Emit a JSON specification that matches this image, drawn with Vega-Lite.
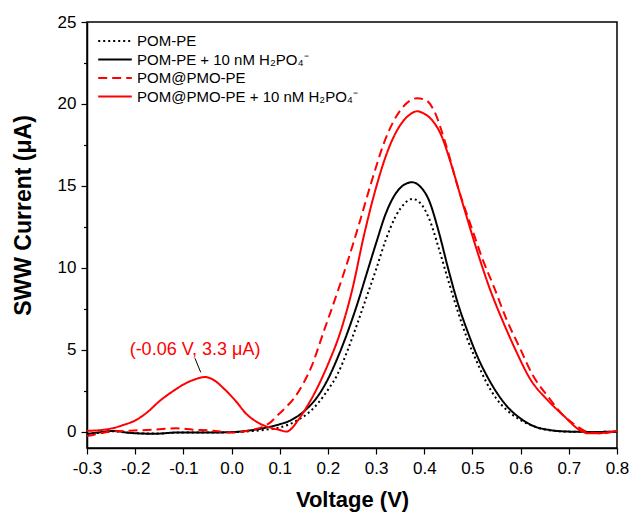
{
  "$schema": "https://vega.github.io/schema/vega-lite/v6.json",
  "width": 530,
  "height": 426,
  "autosize": "none",
  "padding": {"left": 87, "top": 22, "right": 13, "bottom": 68},
  "config": {
    "font": "Liberation Sans",
    "view": {"stroke": "black", "strokeWidth": 1.5},
    "axis": {"grid": false, "domainColor": "black", "domainWidth": 1.5, "tickColor": "black", "tickWidth": 1.2, "labelColor": "black", "labelFontSize": 17, "labelFont": "Liberation Sans", "titleFont": "Liberation Sans", "titleFontWeight": "bold", "titleColor": "black", "labelFlush": false, "labelOverlap": false}
  },
  "datasets": {
    "curves": [
      {"series": "POM-PE", "v": -0.3, "i": -0.14}, {"series": "POM-PE", "v": -0.27, "i": -0.05}, {"series": "POM-PE", "v": -0.245, "i": 0.02}, {"series": "POM-PE", "v": -0.21, "i": -0.08}, {"series": "POM-PE", "v": -0.16, "i": -0.12}, {"series": "POM-PE", "v": -0.11, "i": -0.06}, {"series": "POM-PE", "v": -0.05, "i": -0.05}, {"series": "POM-PE", "v": 0.0, "i": -0.04}, {"series": "POM-PE", "v": 0.04, "i": 0.03}, {"series": "POM-PE", "v": 0.08, "i": 0.15}, {"series": "POM-PE", "v": 0.1, "i": 0.25}, {"series": "POM-PE", "v": 0.12, "i": 0.45}, {"series": "POM-PE", "v": 0.14, "i": 0.75}, {"series": "POM-PE", "v": 0.16, "i": 1.15}, {"series": "POM-PE", "v": 0.18, "i": 1.75}, {"series": "POM-PE", "v": 0.2, "i": 2.55}, {"series": "POM-PE", "v": 0.22, "i": 3.5}, {"series": "POM-PE", "v": 0.24, "i": 4.9}, {"series": "POM-PE", "v": 0.26, "i": 6.5}, {"series": "POM-PE", "v": 0.28, "i": 8.2}, {"series": "POM-PE", "v": 0.3, "i": 9.9}, {"series": "POM-PE", "v": 0.32, "i": 11.7}, {"series": "POM-PE", "v": 0.34, "i": 13.1}, {"series": "POM-PE", "v": 0.36, "i": 13.95}, {"series": "POM-PE", "v": 0.375, "i": 14.2}, {"series": "POM-PE", "v": 0.39, "i": 14.0}, {"series": "POM-PE", "v": 0.41, "i": 13.0}, {"series": "POM-PE", "v": 0.43, "i": 11.2}, {"series": "POM-PE", "v": 0.45, "i": 9.2}, {"series": "POM-PE", "v": 0.47, "i": 7.3}, {"series": "POM-PE", "v": 0.49, "i": 5.6}, {"series": "POM-PE", "v": 0.51, "i": 4.2}, {"series": "POM-PE", "v": 0.53, "i": 2.95}, {"series": "POM-PE", "v": 0.55, "i": 2.0}, {"series": "POM-PE", "v": 0.57, "i": 1.35}, {"series": "POM-PE", "v": 0.6, "i": 0.7}, {"series": "POM-PE", "v": 0.63, "i": 0.3}, {"series": "POM-PE", "v": 0.66, "i": 0.08}, {"series": "POM-PE", "v": 0.7, "i": 0.0}, {"series": "POM-PE", "v": 0.75, "i": -0.02}, {"series": "POM-PE", "v": 0.8, "i": 0.0},

      {"series": "POM-PE + 10 nM H₂PO₄⁻", "v": -0.3, "i": -0.14}, {"series": "POM-PE + 10 nM H₂PO₄⁻", "v": -0.27, "i": -0.03}, {"series": "POM-PE + 10 nM H₂PO₄⁻", "v": -0.245, "i": 0.04}, {"series": "POM-PE + 10 nM H₂PO₄⁻", "v": -0.21, "i": -0.08}, {"series": "POM-PE + 10 nM H₂PO₄⁻", "v": -0.16, "i": -0.13}, {"series": "POM-PE + 10 nM H₂PO₄⁻", "v": -0.11, "i": -0.05}, {"series": "POM-PE + 10 nM H₂PO₄⁻", "v": -0.05, "i": -0.06}, {"series": "POM-PE + 10 nM H₂PO₄⁻", "v": 0.0, "i": -0.03}, {"series": "POM-PE + 10 nM H₂PO₄⁻", "v": 0.04, "i": 0.08}, {"series": "POM-PE + 10 nM H₂PO₄⁻", "v": 0.08, "i": 0.3}, {"series": "POM-PE + 10 nM H₂PO₄⁻", "v": 0.1, "i": 0.45}, {"series": "POM-PE + 10 nM H₂PO₄⁻", "v": 0.12, "i": 0.65}, {"series": "POM-PE + 10 nM H₂PO₄⁻", "v": 0.14, "i": 1.0}, {"series": "POM-PE + 10 nM H₂PO₄⁻", "v": 0.16, "i": 1.5}, {"series": "POM-PE + 10 nM H₂PO₄⁻", "v": 0.18, "i": 2.2}, {"series": "POM-PE + 10 nM H₂PO₄⁻", "v": 0.2, "i": 3.2}, {"series": "POM-PE + 10 nM H₂PO₄⁻", "v": 0.22, "i": 4.5}, {"series": "POM-PE + 10 nM H₂PO₄⁻", "v": 0.24, "i": 6.0}, {"series": "POM-PE + 10 nM H₂PO₄⁻", "v": 0.26, "i": 7.7}, {"series": "POM-PE + 10 nM H₂PO₄⁻", "v": 0.28, "i": 9.6}, {"series": "POM-PE + 10 nM H₂PO₄⁻", "v": 0.3, "i": 11.5}, {"series": "POM-PE + 10 nM H₂PO₄⁻", "v": 0.32, "i": 13.3}, {"series": "POM-PE + 10 nM H₂PO₄⁻", "v": 0.34, "i": 14.5}, {"series": "POM-PE + 10 nM H₂PO₄⁻", "v": 0.36, "i": 15.1}, {"series": "POM-PE + 10 nM H₂PO₄⁻", "v": 0.375, "i": 15.22}, {"series": "POM-PE + 10 nM H₂PO₄⁻", "v": 0.39, "i": 15.0}, {"series": "POM-PE + 10 nM H₂PO₄⁻", "v": 0.41, "i": 14.1}, {"series": "POM-PE + 10 nM H₂PO₄⁻", "v": 0.43, "i": 12.2}, {"series": "POM-PE + 10 nM H₂PO₄⁻", "v": 0.45, "i": 9.9}, {"series": "POM-PE + 10 nM H₂PO₄⁻", "v": 0.47, "i": 7.8}, {"series": "POM-PE + 10 nM H₂PO₄⁻", "v": 0.49, "i": 6.1}, {"series": "POM-PE + 10 nM H₂PO₄⁻", "v": 0.51, "i": 4.6}, {"series": "POM-PE + 10 nM H₂PO₄⁻", "v": 0.53, "i": 3.4}, {"series": "POM-PE + 10 nM H₂PO₄⁻", "v": 0.55, "i": 2.4}, {"series": "POM-PE + 10 nM H₂PO₄⁻", "v": 0.57, "i": 1.6}, {"series": "POM-PE + 10 nM H₂PO₄⁻", "v": 0.6, "i": 0.8}, {"series": "POM-PE + 10 nM H₂PO₄⁻", "v": 0.63, "i": 0.3}, {"series": "POM-PE + 10 nM H₂PO₄⁻", "v": 0.66, "i": 0.1}, {"series": "POM-PE + 10 nM H₂PO₄⁻", "v": 0.7, "i": 0.0}, {"series": "POM-PE + 10 nM H₂PO₄⁻", "v": 0.75, "i": -0.02}, {"series": "POM-PE + 10 nM H₂PO₄⁻", "v": 0.8, "i": 0.0},

      {"series": "POM@PMO-PE", "v": -0.3, "i": -0.27}, {"series": "POM@PMO-PE", "v": -0.287, "i": -0.2}, {"series": "POM@PMO-PE", "v": -0.252, "i": 0.0}, {"series": "POM@PMO-PE", "v": -0.21, "i": 0.06}, {"series": "POM@PMO-PE", "v": -0.16, "i": 0.12}, {"series": "POM@PMO-PE", "v": -0.115, "i": 0.2}, {"series": "POM@PMO-PE", "v": -0.08, "i": 0.12}, {"series": "POM@PMO-PE", "v": -0.04, "i": 0.06}, {"series": "POM@PMO-PE", "v": 0.0, "i": -0.06}, {"series": "POM@PMO-PE", "v": 0.02, "i": -0.02}, {"series": "POM@PMO-PE", "v": 0.045, "i": 0.12}, {"series": "POM@PMO-PE", "v": 0.065, "i": 0.3}, {"series": "POM@PMO-PE", "v": 0.08, "i": 0.55}, {"series": "POM@PMO-PE", "v": 0.095, "i": 0.98}, {"series": "POM@PMO-PE", "v": 0.11, "i": 1.4}, {"series": "POM@PMO-PE", "v": 0.13, "i": 2.05}, {"series": "POM@PMO-PE", "v": 0.15, "i": 3.0}, {"series": "POM@PMO-PE", "v": 0.165, "i": 3.9}, {"series": "POM@PMO-PE", "v": 0.19, "i": 6.0}, {"series": "POM@PMO-PE", "v": 0.215, "i": 8.1}, {"series": "POM@PMO-PE", "v": 0.24, "i": 10.3}, {"series": "POM@PMO-PE", "v": 0.265, "i": 12.7}, {"series": "POM@PMO-PE", "v": 0.29, "i": 15.2}, {"series": "POM@PMO-PE", "v": 0.32, "i": 17.9}, {"series": "POM@PMO-PE", "v": 0.35, "i": 19.6}, {"series": "POM@PMO-PE", "v": 0.37, "i": 20.2}, {"series": "POM@PMO-PE", "v": 0.385, "i": 20.35}, {"series": "POM@PMO-PE", "v": 0.405, "i": 20.2}, {"series": "POM@PMO-PE", "v": 0.42, "i": 19.6}, {"series": "POM@PMO-PE", "v": 0.445, "i": 17.5}, {"series": "POM@PMO-PE", "v": 0.47, "i": 14.9}, {"series": "POM@PMO-PE", "v": 0.5, "i": 12.3}, {"series": "POM@PMO-PE", "v": 0.52, "i": 10.6}, {"series": "POM@PMO-PE", "v": 0.545, "i": 8.8}, {"series": "POM@PMO-PE", "v": 0.57, "i": 6.9}, {"series": "POM@PMO-PE", "v": 0.6, "i": 5.0}, {"series": "POM@PMO-PE", "v": 0.625, "i": 3.45}, {"series": "POM@PMO-PE", "v": 0.655, "i": 2.2}, {"series": "POM@PMO-PE", "v": 0.69, "i": 0.95}, {"series": "POM@PMO-PE", "v": 0.715, "i": 0.37}, {"series": "POM@PMO-PE", "v": 0.737, "i": 0.0}, {"series": "POM@PMO-PE", "v": 0.77, "i": -0.1}, {"series": "POM@PMO-PE", "v": 0.8, "i": 0.05},

      {"series": "POM@PMO-PE + 10 nM H₂PO₄⁻", "v": -0.3, "i": 0.05}, {"series": "POM@PMO-PE + 10 nM H₂PO₄⁻", "v": -0.27, "i": 0.1}, {"series": "POM@PMO-PE + 10 nM H₂PO₄⁻", "v": -0.245, "i": 0.22}, {"series": "POM@PMO-PE + 10 nM H₂PO₄⁻", "v": -0.225, "i": 0.4}, {"series": "POM@PMO-PE + 10 nM H₂PO₄⁻", "v": -0.2, "i": 0.68}, {"series": "POM@PMO-PE + 10 nM H₂PO₄⁻", "v": -0.175, "i": 1.18}, {"series": "POM@PMO-PE + 10 nM H₂PO₄⁻", "v": -0.15, "i": 1.85}, {"series": "POM@PMO-PE + 10 nM H₂PO₄⁻", "v": -0.12, "i": 2.5}, {"series": "POM@PMO-PE + 10 nM H₂PO₄⁻", "v": -0.095, "i": 2.95}, {"series": "POM@PMO-PE + 10 nM H₂PO₄⁻", "v": -0.075, "i": 3.2}, {"series": "POM@PMO-PE + 10 nM H₂PO₄⁻", "v": -0.055, "i": 3.33}, {"series": "POM@PMO-PE + 10 nM H₂PO₄⁻", "v": -0.04, "i": 3.2}, {"series": "POM@PMO-PE + 10 nM H₂PO₄⁻", "v": -0.015, "i": 2.6}, {"series": "POM@PMO-PE + 10 nM H₂PO₄⁻", "v": 0.01, "i": 1.82}, {"series": "POM@PMO-PE + 10 nM H₂PO₄⁻", "v": 0.03, "i": 1.1}, {"series": "POM@PMO-PE + 10 nM H₂PO₄⁻", "v": 0.055, "i": 0.55}, {"series": "POM@PMO-PE + 10 nM H₂PO₄⁻", "v": 0.085, "i": 0.2}, {"series": "POM@PMO-PE + 10 nM H₂PO₄⁻", "v": 0.1, "i": 0.1}, {"series": "POM@PMO-PE + 10 nM H₂PO₄⁻", "v": 0.114, "i": 0.0}, {"series": "POM@PMO-PE + 10 nM H₂PO₄⁻", "v": 0.125, "i": 0.2}, {"series": "POM@PMO-PE + 10 nM H₂PO₄⁻", "v": 0.135, "i": 0.57}, {"series": "POM@PMO-PE + 10 nM H₂PO₄⁻", "v": 0.155, "i": 1.45}, {"series": "POM@PMO-PE + 10 nM H₂PO₄⁻", "v": 0.175, "i": 2.5}, {"series": "POM@PMO-PE + 10 nM H₂PO₄⁻", "v": 0.2, "i": 4.1}, {"series": "POM@PMO-PE + 10 nM H₂PO₄⁻", "v": 0.225, "i": 6.0}, {"series": "POM@PMO-PE + 10 nM H₂PO₄⁻", "v": 0.25, "i": 8.6}, {"series": "POM@PMO-PE + 10 nM H₂PO₄⁻", "v": 0.275, "i": 12.0}, {"series": "POM@PMO-PE + 10 nM H₂PO₄⁻", "v": 0.3, "i": 14.9}, {"series": "POM@PMO-PE + 10 nM H₂PO₄⁻", "v": 0.325, "i": 17.2}, {"series": "POM@PMO-PE + 10 nM H₂PO₄⁻", "v": 0.35, "i": 18.7}, {"series": "POM@PMO-PE + 10 nM H₂PO₄⁻", "v": 0.37, "i": 19.35}, {"series": "POM@PMO-PE + 10 nM H₂PO₄⁻", "v": 0.385, "i": 19.55}, {"series": "POM@PMO-PE + 10 nM H₂PO₄⁻", "v": 0.4, "i": 19.4}, {"series": "POM@PMO-PE + 10 nM H₂PO₄⁻", "v": 0.415, "i": 19.05}, {"series": "POM@PMO-PE + 10 nM H₂PO₄⁻", "v": 0.435, "i": 18.1}, {"series": "POM@PMO-PE + 10 nM H₂PO₄⁻", "v": 0.455, "i": 16.4}, {"series": "POM@PMO-PE + 10 nM H₂PO₄⁻", "v": 0.48, "i": 13.9}, {"series": "POM@PMO-PE + 10 nM H₂PO₄⁻", "v": 0.51, "i": 11.0}, {"series": "POM@PMO-PE + 10 nM H₂PO₄⁻", "v": 0.535, "i": 8.8}, {"series": "POM@PMO-PE + 10 nM H₂PO₄⁻", "v": 0.565, "i": 6.6}, {"series": "POM@PMO-PE + 10 nM H₂PO₄⁻", "v": 0.59, "i": 4.95}, {"series": "POM@PMO-PE + 10 nM H₂PO₄⁻", "v": 0.62, "i": 3.2}, {"series": "POM@PMO-PE + 10 nM H₂PO₄⁻", "v": 0.655, "i": 1.95}, {"series": "POM@PMO-PE + 10 nM H₂PO₄⁻", "v": 0.69, "i": 0.95}, {"series": "POM@PMO-PE + 10 nM H₂PO₄⁻", "v": 0.725, "i": 0.05}, {"series": "POM@PMO-PE + 10 nM H₂PO₄⁻", "v": 0.74, "i": -0.1}, {"series": "POM@PMO-PE + 10 nM H₂PO₄⁻", "v": 0.76, "i": -0.1}, {"series": "POM@PMO-PE + 10 nM H₂PO₄⁻", "v": 0.78, "i": -0.05}, {"series": "POM@PMO-PE + 10 nM H₂PO₄⁻", "v": 0.8, "i": 0.05}
    ],
    "note": [{"v": -0.0758, "i": 5.0, "label": "(-0.06 V, 3.3 μA)"}],
    "leader": [{"v": -0.076, "i": 4.48, "v2": -0.064, "i2": 3.62}]
  },
  "layer": [
    {
      "data": {"name": "curves"},
      "mark": {"type": "line", "strokeWidth": 2, "interpolate": "monotone", "clip": true},
      "encoding": {
        "x": {"field": "v", "type": "quantitative", "scale": {"domain": [-0.3, 0.8], "nice": false, "zero": false},
          "axis": {"title": "Voltage (V)", "titleFontSize": 22, "values": [-0.3, -0.25, -0.2, -0.15, -0.1, -0.05, 0, 0.05, 0.1, 0.15, 0.2, 0.25, 0.3, 0.35, 0.4, 0.45, 0.5, 0.55, 0.6, 0.65, 0.7, 0.75, 0.8],
            "labelExpr": "abs(round(datum.value*20)) % 2 == 0 ? replace(format(datum.value, '.1f'), '\u2212', '-') : ''",
            "tickSize": {"condition": {"test": "abs(round(datum.value*20)) % 2 == 0", "value": 6}, "value": 3.5},
            "labelPadding": 6, "titlePadding": 13}},
        "y": {"field": "i", "type": "quantitative", "scale": {"domain": [-1, 25], "nice": false, "zero": false},
          "axis": {"title": "SWW Current (μA)", "titleFontSize": 23, "titleY": 193, "values": [0, 2.5, 5, 7.5, 10, 12.5, 15, 17.5, 20, 22.5, 25],
            "labelExpr": "abs(round(datum.value/2.5)) % 2 == 0 ? format(datum.value, 'd') : ''",
            "tickSize": {"condition": {"test": "abs(round(datum.value/2.5)) % 2 == 0", "value": 6}, "value": 3.5},
            "labelPadding": 5, "titlePadding": 22}},
        "color": {"field": "series", "type": "nominal",
          "scale": {"domain": ["POM-PE", "POM-PE + 10 nM H₂PO₄⁻", "POM@PMO-PE", "POM@PMO-PE + 10 nM H₂PO₄⁻"], "range": ["#000000", "#000000", "#ff0000", "#ff0000"]},
          "legend": {"title": null, "orient": "none", "legendX": 19, "legendY": 10, "padding": 0, "symbolType": "M-2.1,0H2.1", "symbolSize": 256, "symbolStrokeWidth": 2, "labelFontSize": 15, "labelFont": "Liberation Sans", "labelColor": "black", "labelOffset": 13, "labelLimit": 400, "rowPadding": 1.5}},
        "strokeDash": {"field": "series", "type": "nominal",
          "scale": {"domain": ["POM-PE", "POM-PE + 10 nM H₂PO₄⁻", "POM@PMO-PE", "POM@PMO-PE + 10 nM H₂PO₄⁻"], "range": [[2, 3], [1, 0], [9, 5], [1, 0]]},
          "legend": {"title": null, "orient": "none", "legendX": 19, "legendY": 10, "padding": 0, "symbolType": "M-2.1,0H2.1", "symbolSize": 256, "symbolStrokeWidth": 2, "labelFontSize": 15, "labelFont": "Liberation Sans", "labelColor": "black", "labelOffset": 13, "labelLimit": 400, "rowPadding": 1.5}}
      }
    },
    {
      "data": {"name": "note"},
      "mark": {"type": "text", "color": "#ff0000", "fontSize": 18, "font": "Liberation Sans", "align": "center", "baseline": "middle"},
      "encoding": {"x": {"field": "v", "type": "quantitative"}, "y": {"field": "i", "type": "quantitative"}, "text": {"field": "label"}}
    },
    {
      "data": {"name": "leader"},
      "mark": {"type": "rule", "color": "black", "strokeWidth": 1},
      "encoding": {"x": {"field": "v", "type": "quantitative"}, "y": {"field": "i", "type": "quantitative"}, "x2": {"field": "v2"}, "y2": {"field": "i2"}}
    }
  ]
}
